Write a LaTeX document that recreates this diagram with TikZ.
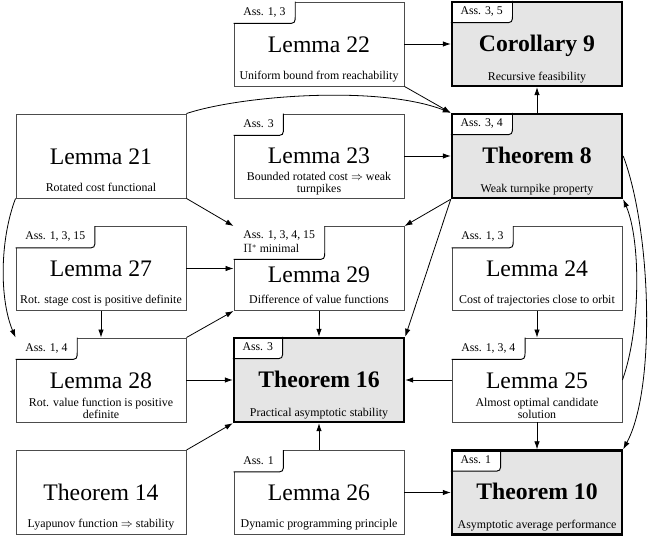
\documentclass[tikz,border=0pt]{standalone}
\usepackage{fontspec}
\setmainfont{Liberation Serif}
\usetikzlibrary{arrows.meta}
\pgfdeclarelayer{front}
\pgfsetlayers{main,front}
\tikzset{
  box/.style={rectangle, draw=black!70, line width=0.9pt, minimum width=170pt, minimum height=84pt, inner sep=0pt, fill=white},
  keybox/.style={box, draw=black, line width=2.4pt, fill=black!10},
  tabtext/.style={anchor=north west, inner xsep=9.5pt, inner ysep=5.25pt, text height=8.5pt, text depth=2.5pt, font=\fontsize{11.8}{13}\selectfont},
  tabtwo/.style={anchor=north west, inner xsep=9.5pt, inner ysep=2.5pt, font=\fontsize{11.8}{14}\selectfont},
  titletext/.style={anchor=base, inner sep=0pt, font=\fontsize{23.7}{28}\selectfont},
  keytitle/.style={anchor=base, inner sep=0pt, font=\fontsize{23.7}{28}\selectfont\bfseries},
  subtext/.style={anchor=base, inner sep=0pt, font=\fontsize{11.9}{12.5}\selectfont},
  subtight/.style={anchor=base, inner sep=0pt, font=\fontsize{11.9}{11}\selectfont},
  conn/.style={line width=0.8pt, -{Latex[length=8pt,width=5.5pt]}},
  tabline/.style={line width=0.95pt, draw=black},
  borderline/.style={line width=2.4pt, draw=black},
}
% #1 tab node name, #2 box name, #3 style, #4 text
\newcommand\mytab[4]{%
  \begin{pgfonlayer}{front}\node[#3] (#1) at (#2.north west) {#4};\end{pgfonlayer}
  \fill[white] (#1.north west) -- (#1.south west) -- ([xshift=-9pt]#1.south east) .. controls (#1.south east) .. ([yshift=9pt]#1.south east) -- (#1.north east) -- cycle;
  \draw[tabline] (#1.south west) -- ([xshift=-9pt]#1.south east) .. controls (#1.south east) .. ([yshift=9pt]#1.south east) -- (#1.north east);}
\newcommand\reborder[1]{%
  \draw[borderline] ([shift={(1.2pt,-1.2pt)}]#1.north west) rectangle ([shift={(-1.2pt,1.2pt)}]#1.south east);}
\begin{document}
\begin{tikzpicture}[x=1pt,y=-1pt]
\useasboundingbox (0,0) rectangle (656,537);

% boxes
\node[box] (l22) at (319,44) {};
\node[keybox] (c9) at (537,44) {};
\node[box] (l21) at (101,156) {};
\node[box] (l23) at (319,156) {};
\node[keybox] (t8) at (537,156) {};
\node[box] (l27) at (101,268.5) {};
\node[box] (l29) at (319,268.5) {};
\node[box] (l24) at (537,268.5) {};
\node[box] (l28) at (101,380) {};
\node[keybox] (t16) at (319,380) {};
\node[box] (l25) at (537,380) {};
\node[box] (t14) at (101,492.5) {};
\node[box] (l26) at (319,492.5) {};
\node[keybox] (t10) at (537,492.5) {};

% assumption tabs
\mytab{l22a}{l22}{tabtext}{Ass. 1, 3}
\mytab{c9a}{c9}{tabtext}{Ass. 3, 5}
\mytab{l23a}{l23}{tabtext}{Ass. 3}
\mytab{t8a}{t8}{tabtext}{Ass. 3, 4}
\mytab{l27a}{l27}{tabtext}{Ass. 1, 3, 15}
\mytab{l29a}{l29}{tabtwo}{\begin{tabular}[t]{@{}l@{}}Ass. 1, 3, 4, 15\\$\Pi^{*}$ minimal\end{tabular}}
\mytab{l24a}{l24}{tabtext}{Ass. 1, 3}
\mytab{l28a}{l28}{tabtext}{Ass. 1, 4}
\mytab{t16a}{t16}{tabtext}{Ass. 3}
\mytab{l25a}{l25}{tabtext}{Ass. 1, 3, 4}
\mytab{l26a}{l26}{tabtext}{Ass. 1}
\mytab{t10a}{t10}{tabtext}{Ass. 1}

\reborder{c9}
\reborder{t8}
\reborder{t16}
\reborder{t10}

% titles
\node[titletext] (l22t) at ([yshift=-51pt]l22.north) {Lemma 22};
\node[keytitle] (c9t) at ([yshift=-51pt]c9.north) {Corollary 9};
\node[titletext] (l21t) at ([yshift=-51pt]l21.north) {Lemma 21};
\node[titletext] (l23t) at ([yshift=-50pt]l23.north) {Lemma 23};
\node[keytitle] (t8t) at ([yshift=-51pt]t8.north) {Theorem 8};
\node[titletext] (l27t) at ([yshift=-50pt]l27.north) {Lemma 27};
\node[titletext] (l29t) at ([yshift=-56pt]l29.north) {Lemma 29};
\node[titletext] (l24t) at ([yshift=-50pt]l24.north) {Lemma 24};
\node[titletext] (l28t) at ([yshift=-51pt]l28.north) {Lemma 28};
\node[keytitle] (t16t) at ([yshift=-51pt]t16.north) {Theorem 16};
\node[titletext] (l25t) at ([yshift=-51pt]l25.north) {Lemma 25};
\node[titletext] (t14t) at ([yshift=-50pt]t14.north) {Theorem 14};
\node[titletext] (l26t) at ([yshift=-50pt]l26.north) {Lemma 26};
\node[keytitle] (t10t) at ([yshift=-50pt]t10.north) {Theorem 10};

% subtitles
\node[subtext] (l22s) at ([yshift=7pt]l22.south) {Uniform bound from reachability};
\node[subtext] (c9s) at ([yshift=7pt]c9.south) {Recursive feasibility};
\node[subtext] (l21s) at ([yshift=7pt]l21.south) {Rotated cost functional};
\node[subtight] (l23s) at ([yshift=6pt]l23.south) {\begin{tabular}[b]{@{}c@{}}Bounded rotated cost $\Rightarrow$ weak\\turnpikes\end{tabular}};
\node[subtext] (t8s) at ([yshift=7pt]t8.south) {Weak turnpike property};
\node[subtext] (l27s) at ([yshift=7pt]l27.south) {Rot. stage cost is positive definite};
\node[subtext] (l29s) at ([yshift=7pt]l29.south) {Difference of value functions};
\node[subtext] (l24s) at ([yshift=7pt]l24.south) {Cost of trajectories close to orbit};
\node[subtext] (l28s) at ([yshift=3.5pt]l28.south) {\begin{tabular}[b]{@{}c@{}}Rot. value function is positive\\definite\end{tabular}};
\node[subtext] (t16s) at ([yshift=7pt]t16.south) {Practical asymptotic stability};
\node[subtext] (l25s) at ([yshift=3.5pt]l25.south) {\begin{tabular}[b]{@{}c@{}}Almost optimal candidate\\solution\end{tabular}};
\node[subtext] (t14s) at ([yshift=7pt]t14.south) {Lyapunov function $\Rightarrow$ stability};
\node[subtext] (l26s) at ([yshift=7pt]l26.south) {Dynamic programming principle};
\node[subtext] (t10s) at ([yshift=7pt]t10.south) {Asymptotic average performance};

% connectors
\draw[conn] (l22.east) -- (c9.west);
\draw[conn] (l22.south east) -- (t8.north west);
\draw[conn] (l21.north east) .. controls +(54,-18) and +(-72,-28) .. (t8.north west);
\draw[conn] (l23.east) -- (t8.west);
\draw[conn] (t8.north) -- (c9.south);
\draw[conn] (l21.south east) -- (l29.north west);
\draw[conn] (t8.south west) -- (l29.north east);
\draw[conn] (t8.south west) -- (t16.north east);
\draw[conn] (l21.south west) .. controls +(-16,42) and +(-16,-38) .. (l28.north west);
\draw[conn] (l27.east) -- (l29.west);
\draw[conn] (l27.south) -- (l28.north);
\draw[conn] (l28.north east) -- (l29.south west);
\draw[conn] (l29.south) -- (t16.north);
\draw[conn] (l28.east) -- (t16.west);
\draw[conn] (l24.south) -- (l25.north);
\draw[conn] (l25.west) -- (t16.east);
\draw[conn] (l25.east) .. controls +(18,-50) and +(18,42) .. (t8.south east);
\draw[conn] (t8.east) .. controls +(28,74) and +(33,-61) .. (t10.north east);
\draw[conn] (l25.south) -- (t10.north);
\draw[conn] (t14.north east) -- (t16.south west);
\draw[conn] (l26.north) -- (t16.south);
\draw[conn] (l26.east) -- (t10.west);
\end{tikzpicture}
\end{document}
